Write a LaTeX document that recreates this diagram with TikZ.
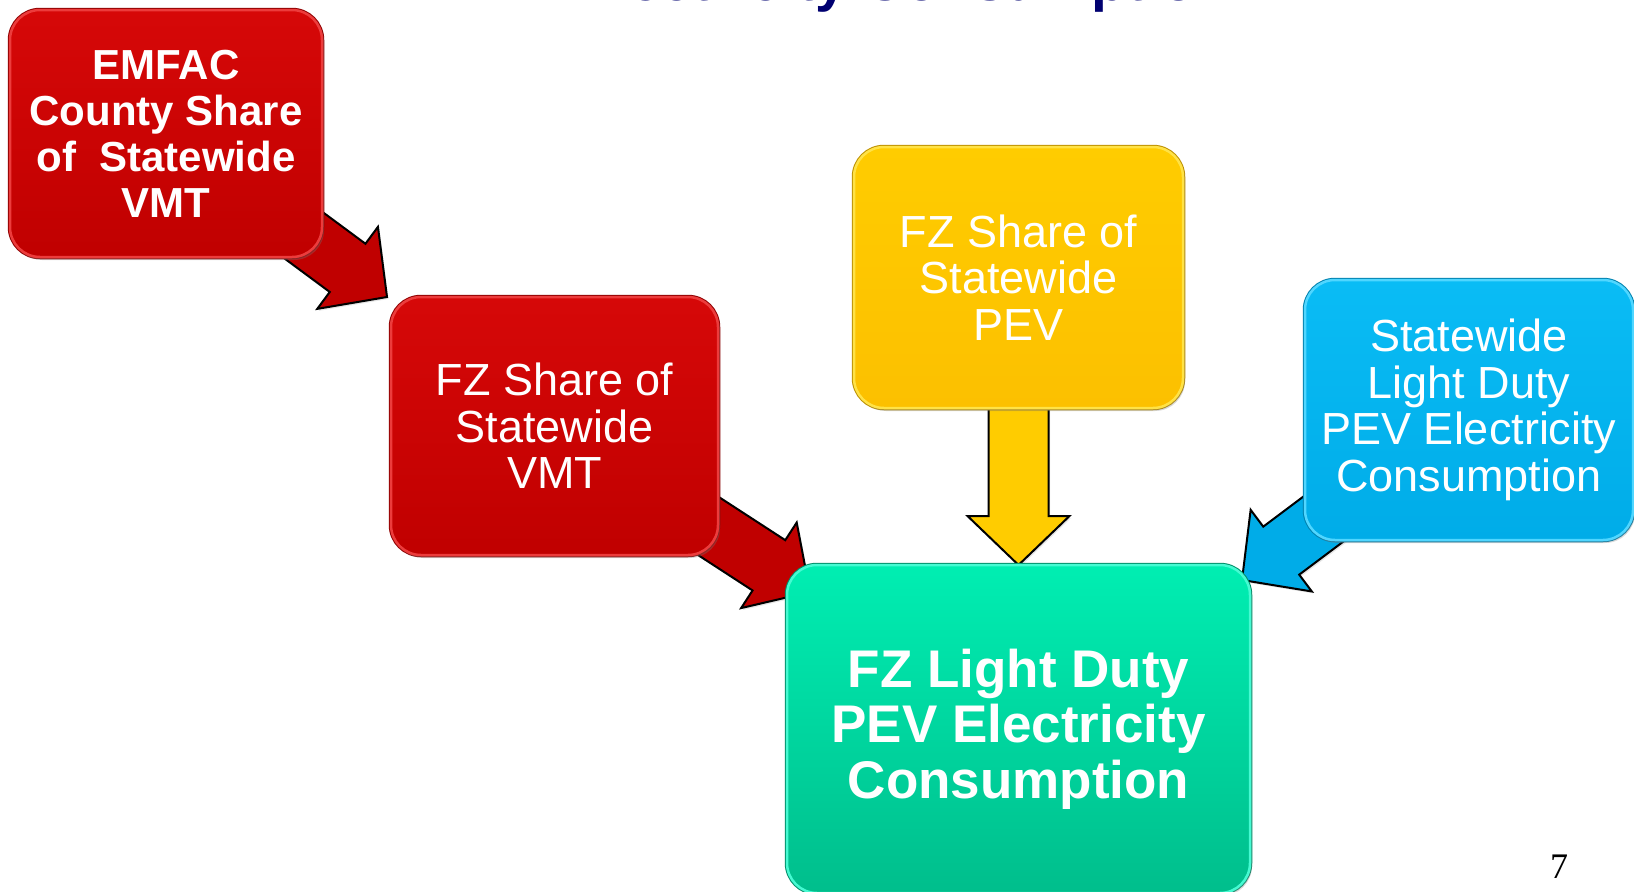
\documentclass[tikz,border=0pt]{standalone}
\usepackage{fontspec}
\setmainfont{Liberation Sans}
\newfontfamily\pagefont{Liberation Serif}
\usetikzlibrary{calc,shadows,backgrounds,positioning}

\definecolor{titlenavy}{RGB}{0,0,112}
\definecolor{redtop}{RGB}{214,8,8}
\definecolor{redbot}{RGB}{192,0,0}
\definecolor{redlite}{RGB}{236,60,60}
\definecolor{yeltop}{RGB}{255,204,0}
\definecolor{yelbot}{RGB}{252,192,0}
\definecolor{yellite}{RGB}{255,226,70}
\definecolor{bluetop}{RGB}{10,188,245}
\definecolor{bluebot}{RGB}{0,172,232}
\definecolor{bluelite}{RGB}{80,214,255}
\definecolor{greentop}{RGB}{0,238,178}
\definecolor{greenbot}{RGB}{0,190,140}
\definecolor{greenlite}{RGB}{70,250,210}

% block arrow from #2 (hidden behind the box) to the tip #3
\newcommand{\blockarrow}[3]{%
  \draw[arrowedge, fill=#1]
    ($(#2)!30pt!90:(#3)$)
    -- ($($(#3)!49pt!(#2)$)!30pt!90:(#3)$)
    -- ($($(#3)!49pt!(#2)$)!51pt!90:(#3)$)
    -- (#3)
    -- ($($(#3)!49pt!(#2)$)!51pt!-90:(#3)$)
    -- ($($(#3)!49pt!(#2)$)!30pt!-90:(#3)$)
    -- ($(#2)!30pt!-90:(#3)$)
    -- cycle;
}

\begin{document}
\begin{tikzpicture}[x=1pt, y=-1pt,
    box/.style n args={3}{rectangle, rounded corners=30pt, outer sep=0pt, inner sep=0pt,
      top color=#1, bottom color=#2, draw=#3, line width=2.5pt,
      preaction={draw=#2!75!black, line width=4.5pt},
      drop shadow={opacity=0.3, shadow xshift=2pt, shadow yshift=-3pt},
      text=white, align=center},
    plain/.style={font=\fontsize{45}{46.5}\selectfont},
    arrowedge/.style={draw=black, line width=2pt, line join=miter,
      drop shadow={opacity=0.2, shadow xshift=1.5pt, shadow yshift=-2pt}}]

  \clip (0,0) rectangle (1634,892);

  \node[font=\bfseries\fontsize{57}{60}\selectfont, text=titlenavy, anchor=base] (title) at (903,0.5) {Electricity Consumption};

  % input boxes
  \node[box={redtop}{redbot}{redlite}, minimum width=312pt, minimum height=247pt,
        font=\bfseries\fontsize{42}{46}\selectfont] (emfac) at (166,133.5)
        {EMFAC\\County Share\\of~~Statewide\\VMT};
  \node[box={redtop}{redbot}{redlite}, plain, minimum width=327pt, minimum height=258pt] (vmt) at (554.5,426)
        {FZ Share of\\Statewide\\VMT};
  \node[box={yeltop}{yelbot}{yellite}, plain, minimum width=329pt, minimum height=261pt] (pevshare) at (1018.5,277.5)
        {FZ Share of\\Statewide\\PEV};
  \node[box={bluetop}{bluebot}{bluelite}, plain, minimum width=328pt, minimum height=260pt] (statewide) at (1469,410)
        {Statewide\\Light Duty\\PEV Electricity\\Consumption};

  % result
  \node[box={greentop}{greenbot}{greenlite}, minimum width=463pt, minimum height=328pt,
        font=\bfseries\fontsize{53}{55.5}\selectfont] (target) at (1018.5,729)
        {FZ Light Duty\\PEV Electricity\\Consumption};

  \node[font=\pagefont\fontsize{36}{36}\selectfont, anchor=base] (pagenum) at (1559,878) {7};

  \coordinate (tip1) at ($(vmt.north west)+(-4,0)$);
  \coordinate (tip2) at ($(target.north west)+(23,27)$);
  \coordinate (tip3) at (target.north);
  \coordinate (tip4) at ($(target.north east)+(-8,15)$);

  \begin{scope}[on background layer]
    \blockarrow{redbot}{emfac.center}{tip1}
    \blockarrow{redbot}{vmt.center}{tip2}
    \blockarrow{yeltop}{pevshare.center}{tip3}
    \blockarrow{bluebot}{statewide.center}{tip4}
  \end{scope}
\end{tikzpicture}
\end{document}
